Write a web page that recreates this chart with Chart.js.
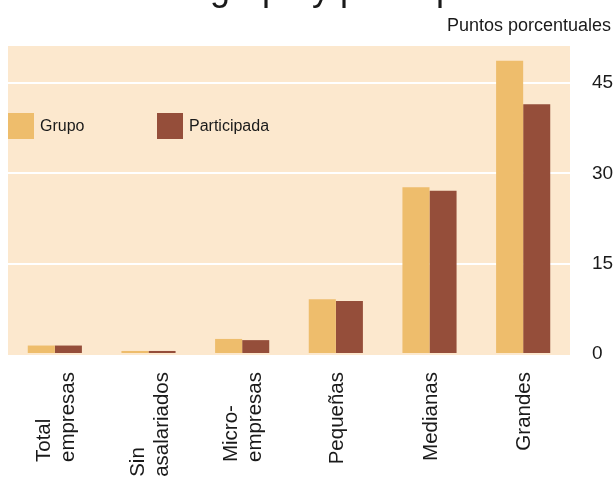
<!DOCTYPE html>
<html>
<head>
<meta charset="utf-8">
<script src="https://cdn.jsdelivr.net/npm/chart.js@4.4.0/dist/chart.umd.min.js"></script>
<style>
  html, body { margin: 0; padding: 0; background: #ffffff; }
  #wrap { position: relative; width: 616px; height: 477px; }
</style>
</head>
<body>
<div id="wrap"><canvas id="c" width="616" height="477"></canvas></div>
<script>
const categories = [["Total", "empresas"], ["Sin", "asalariados"], ["Micro-", "empresas"], ["Pequeñas"], ["Medianas"], ["Grandes"]];
const grupo = [1.4, 0.5, 2.5, 9.1, 27.7, 48.7];
const participada = [1.4, 0.5, 2.3, 8.8, 27.1, 41.5];
const tickValues = [0, 15, 30, 45];
const seriesNames = ["Grupo", "Participada"];
const titleText = "grupo y participada";
const unitText = "Puntos porcentuales";

const FONT = "'Liberation Sans', Arial, sans-serif";
const C_GRUPO = "#EEBD6C";
const C_PART = "#954E3A";
const C_BG = "#FCE8CE";

const decor = {
  id: "decor",
  beforeDraw(chart) {
    const { ctx, chartArea: a } = chart;
    ctx.save();
    ctx.fillStyle = C_BG;
    ctx.fillRect(a.left, a.top, a.right - a.left, a.bottom - a.top);
    ctx.restore();
  },
  afterDraw(chart) {
    const { ctx } = chart;
    const xs = chart.scales.x;
    ctx.save();
    // partially visible title
    ctx.fillStyle = "#1a1a1a";
    ctx.font = "36px " + FONT;
    ctx.textAlign = "left";
    ctx.textBaseline = "alphabetic";
    ctx.fillText(titleText, 210, 0);
    // unit label
    ctx.font = "18px " + FONT;
    ctx.textAlign = "right";
    ctx.fillText(unitText, 611, 31);
    // legend
    const lx = [8, 157];
    chart.data.datasets.forEach((ds, i) => {
      ctx.fillStyle = ds.backgroundColor;
      ctx.fillRect(lx[i], 113, 26, 26);
      ctx.fillStyle = "#1a1a1a";
      ctx.font = "16px " + FONT;
      ctx.textAlign = "left";
      ctx.textBaseline = "middle";
      ctx.fillText(ds.label, lx[i] + 32, 127);
    });
    // category labels (rotated, lines start-aligned)
    ctx.font = "20.5px " + FONT;
    ctx.fillStyle = "#1a1a1a";
    ctx.textBaseline = "alphabetic";
    ctx.textAlign = "left";
    chart.data.labels.forEach((lab, i) => {
      const lines = Array.isArray(lab) ? lab : [lab];
      const cx = xs.getPixelForValue(i);
      const maxW = Math.max(...lines.map(l => ctx.measureText(l).width));
      const startY = 372 + maxW;
      const n = lines.length;
      lines.forEach((line, j) => {
        const off = (j - (n - 1) / 2) * 24 + 7;
        ctx.save();
        ctx.translate(cx + off, startY);
        ctx.rotate(-Math.PI / 2);
        ctx.fillText(line, 0, 0);
        ctx.restore();
      });
    });
    ctx.restore();
  }
};

new Chart(document.getElementById("c"), {
  type: "bar",
  data: {
    labels: categories,
    datasets: [
      { label: seriesNames[0], data: grupo, backgroundColor: C_GRUPO, borderWidth: 0, barPercentage: 1, categoryPercentage: 0.578 },
      { label: seriesNames[1], data: participada, backgroundColor: C_PART, borderWidth: 0, barPercentage: 1, categoryPercentage: 0.578 }
    ]
  },
  options: {
    responsive: false,
    animation: false,
    devicePixelRatio: 1,
    layout: { padding: { top: 46, left: 8, right: 0, bottom: 0 } },
    plugins: { legend: { display: false }, tooltip: { enabled: false }, title: { display: false } },
    scales: {
      x: {
        grid: { display: false, drawTicks: false },
        border: { display: false },
        ticks: { display: false },
        afterFit(s) { s.height = 122; }
      },
      y: {
        position: "right",
        min: -0.17,
        max: 51.16,
        afterBuildTicks(s) { s.ticks = tickValues.map(v => ({ value: v })); },
        afterFit(s) { s.width = 46; },
        grid: {
          drawTicks: false,
          lineWidth: 2,
          color: ctx => (ctx.tick && ctx.tick.value === 0 ? "rgba(0,0,0,0)" : "#ffffff")
        },
        border: { display: false },
        ticks: {
          padding: 22,
          color: "#1a1a1a",
          font: { family: FONT, size: 19 },
          callback: v => String(v)
        }
      }
    }
  },
  plugins: [decor]
});
</script>
</body>
</html>
